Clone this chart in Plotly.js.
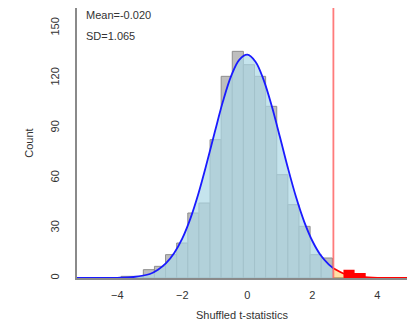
<!DOCTYPE html>
<html>
<head>
<meta charset="utf-8">
<script src="https://cdn.plot.ly/plotly-3.0.1.min.js"></script>
<style>html,body{margin:0;padding:0;background:#fff}#chart{width:407px;height:322px}</style>
</head>
<body>
<div id="chart"></div>
<script>
// Histogram bins (left edges) and counts
const binLefts = [-3.884, -3.542, -3.2, -2.858, -2.516, -2.174, -1.832, -1.49, -1.148, -0.806, -0.464, -0.122, 0.22, 0.562, 0.904, 1.246, 1.588, 1.93, 2.272, 2.614, 2.956, 3.298];
const counts   = [1, 1, 5, 7, 14, 21, 39, 45, 83, 121, 136, 128, 121, 103, 62, 44, 31, 14, 12, 0, 5, 3];
const binWidth = 0.342;
const observedT = 2.646;

// Fitted normal curve (scaled to counts)
const curveX = [-5.24, -4.5, -4, -3.5, -3, -2.75, -2.5, -2.25, -2, -1.75, -1.5, -1.25, -1, -0.75, -0.5, -0.25, 0, 0.25, 0.5, 0.75, 1, 1.25, 1.5, 1.75, 2, 2.25, 2.5, 2.646, 3, 3.25, 3.5, 4, 4.5, 4.91];
const curveY = [0, 0.02, 0.1, 0.6, 2.4, 5, 8.9, 15, 23.8, 35.8, 51, 68.8, 87.7, 106, 121.1, 130.9, 134, 129.8, 118.9, 103.2, 84.7, 65.8, 48.4, 33.7, 22.2, 13.8, 8.2, 5.9, 2.4, 1.2, 0.6, 0.1, 0.02, 0];

const xTicks = [-4, -2, 0, 2, 4];
const yTicks = [0, 30, 60, 90, 120, 150];
const statMean = "Mean=-0.020";
const statSD = "SD=1.065";
const xTitle = "Shuffled t-statistics";
const yTitle = "Count";

// split bins
const grayX = [], grayY = [];
const redX = [], redY = [];
binLefts.forEach((l, i) => {
  if (l < observedT) { grayX.push(l + binWidth / 2); grayY.push(counts[i]); }
  else {
    const r = l + binWidth, c = counts[i];
    redX.push(l, l, r, r, l, null);
    redY.push(0, c, c, 0, 0, null);
  }
});
// split curve
const bX = [], bY = [], rX = [], rY = [];
curveX.forEach((x, i) => {
  if (x <= observedT) { bX.push(x); bY.push(curveY[i]); }
  if (x >= observedT) { rX.push(x); rY.push(curveY[i]); }
});

const font = {family: "Liberation Sans, Arial, sans-serif", size: 11, color: "#333"};

const data = [
  {type: "bar", x: grayX, y: grayY, width: binWidth,
   marker: {color: "#bebebe", line: {color: "#8e8e8e", width: 1}}, hoverinfo: "none"},
  {type: "scatter", mode: "lines", x: bX, y: bY, fill: "tozeroy",
   fillcolor: "rgba(173,216,230,0.7)", line: {color: "#1a1aff", width: 1.8, shape: "spline"}},
  {type: "scatter", mode: "lines", x: rX, y: rY, fill: "tozeroy",
   fillcolor: "rgba(255,165,0,0.35)", line: {width: 0, shape: "spline"}},
  {type: "scatter", mode: "lines", x: redX, y: redY, fill: "toself",
   fillcolor: "#ff0000", line: {width: 0}},
  {type: "scatter", mode: "lines", x: rX, y: rY,
   line: {color: "red", width: 1.8, shape: "spline"}}
];

const layout = {
  width: 407, height: 322,
  margin: {l: 77, r: 0, t: 8, b: 44},
  paper_bgcolor: "#fff", plot_bgcolor: "#fff",
  showlegend: false,
  font: font,
  bargap: 0,
  xaxis: {range: [-5.24, 4.91], showgrid: false, zeroline: false, showline: true,
          linecolor: "#8a8a8a", linewidth: 2, layer: "below traces",
          tickvals: xTicks, ticks: "outside", ticklen: 6, tickcolor: "rgba(0,0,0,0)",
          tickfont: font, title: {text: xTitle, font: font, standoff: 11}},
  yaxis: {range: [0, 162], showgrid: false, zeroline: false, showline: true,
          linecolor: "#8a8a8a", linewidth: 2, layer: "below traces",
          tickvals: yTicks, tickangle: -90, ticks: "outside", ticklen: 12, tickcolor: "rgba(0,0,0,0)",
          tickfont: font, title: {text: yTitle, font: font, standoff: 13}},
  shapes: [{type: "line", xref: "x", yref: "paper", x0: observedT, x1: observedT, y0: 0, y1: 1,
            line: {color: "rgba(255,100,100,0.85)", width: 1.8}}],
  annotations: [
    {xref: "paper", yref: "paper", x: 0.02, y: 0.975, xanchor: "left", yanchor: "middle",
     text: statMean, showarrow: false, font: font},
    {xref: "paper", yref: "paper", x: 0.02, y: 0.897, xanchor: "left", yanchor: "middle",
     text: statSD, showarrow: false, font: font}
  ]
};

Plotly.newPlot("chart", data, layout, {staticPlot: true, displayModeBar: false});
</script>
</body>
</html>
